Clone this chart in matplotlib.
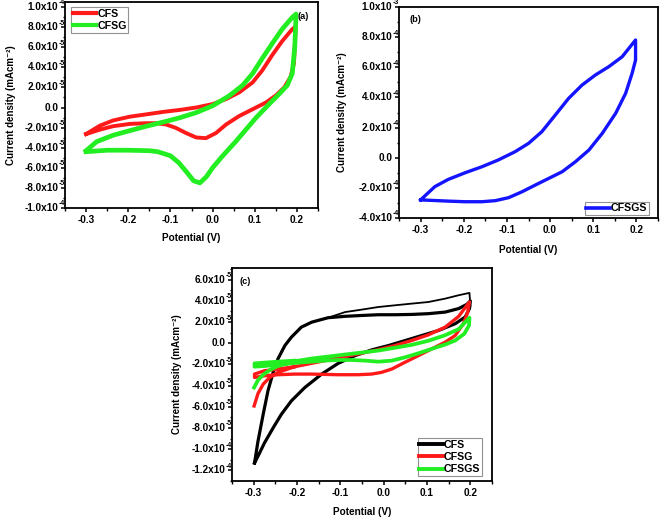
import numpy as np
import matplotlib
matplotlib.use("Agg")
import matplotlib.pyplot as plt
from matplotlib.ticker import MultipleLocator, FuncFormatter, NullFormatter
from matplotlib.transforms import blended_transform_factory, offset_copy

plt.rcParams['font.family'] = ['Liberation Sans', 'DejaVu Sans']
plt.rcParams['font.weight'] = 'bold'
plt.rcParams['axes.unicode_minus'] = False

# ---------------- Panel (a) data (current in 1e-5 mA/cm2) ----------------
a_cfs_v = [-0.300, -0.267, -0.236, -0.196, -0.157, -0.118, -0.078, -0.039, 0.000, 0.032, 0.063, 0.095,
           0.118, 0.142, 0.165, 0.189, 0.197,
           0.193, 0.185, 0.170, 0.150, 0.127, 0.095, 0.063, 0.032, 0.008, -0.016, -0.039, -0.063,
           -0.087, -0.110, -0.134, -0.157, -0.196, -0.236, -0.267, -0.300]
a_cfs_i = [-2.64, -1.80, -1.29, -0.91, -0.68, -0.44, -0.24, 0.00, 0.34, 0.84, 1.50, 2.50,
           3.70, 5.25, 6.60, 7.80, 8.05,
           4.40, 3.05, 2.00, 1.20, 0.51, -0.17, -0.85, -1.69, -2.54, -3.05, -2.98, -2.54,
           -2.03, -1.69, -1.56, -1.56, -1.63, -1.86, -2.20, -2.64]
a_cfsg_v = [-0.300, -0.275, -0.236, -0.196, -0.157, -0.118, -0.078, -0.039, 0.000, 0.040, 0.071, 0.095,
            0.118, 0.142, 0.165, 0.189, 0.198,
            0.195, 0.189, 0.177, 0.158, 0.134, 0.103, 0.079, 0.055, 0.035, 0.020, 0.000, -0.015,
            -0.030, -0.045, -0.060, -0.080, -0.100, -0.130, -0.150, -0.200, -0.250, -0.300]
a_cfsg_i = [-4.30, -3.40, -2.76, -2.30, -1.86, -1.46, -1.02, -0.51, 0.17, 1.18, 2.20, 3.38,
            4.90, 6.40, 7.80, 8.97, 9.30,
            6.10, 3.38, 2.20, 1.35, 0.34, -1.02, -2.20, -3.38, -4.30, -5.00, -6.00, -6.90,
            -7.50, -7.30, -6.50, -5.50, -4.80, -4.40, -4.30, -4.25, -4.25, -4.40]

# ---------------- Panel (b) data (current in 1e-4 mA/cm2) ----------------
b_cfsgs_v = [-0.300, -0.267, -0.236, -0.197, -0.158, -0.120, -0.081, -0.050, -0.019, 0.012, 0.043, 0.074,
             0.105, 0.136, 0.167, 0.198,
             0.198, 0.190, 0.175, 0.152, 0.121, 0.090, 0.059, 0.028, -0.003, -0.034, -0.065, -0.096,
             -0.127, -0.158, -0.197, -0.236, -0.275, -0.300]
b_cfsgs_i = [-2.80, -1.92, -1.44, -1.00, -0.60, -0.15, 0.40, 0.95, 1.73, 2.83, 3.94, 4.82,
             5.49, 6.04, 6.70, 7.81,
             6.48, 5.60, 4.27, 2.95, 1.62, 0.51, -0.26, -0.93, -1.37, -1.81, -2.26, -2.65,
             -2.85, -2.92, -2.92, -2.88, -2.83, -2.80]

# ---------------- Panel (c) data (current in 1e-5 mA/cm2) ----------------
c_cfs_v = [-0.298, -0.290, -0.278, -0.267, -0.255, -0.244, -0.228, -0.213, -0.190, -0.166, -0.128, -0.089,
           -0.051, -0.012, 0.027, 0.065, 0.103, 0.142, 0.173, 0.192, 0.200,
           0.198, 0.188, 0.165, 0.127, 0.088, 0.050, 0.011, -0.028, -0.066, -0.105, -0.143, -0.182,
           -0.213, -0.236, -0.255, -0.275, -0.290, -0.298]
c_cfs_i = [-11.30, -9.24, -6.70, -4.49, -2.75, -1.48, -0.22, 0.57, 1.52, 1.99, 2.41, 2.54,
           2.62, 2.69, 2.69, 2.72, 2.79, 2.94, 3.27, 3.67, 3.99,
           3.27, 2.47, 1.84, 1.21, 0.73, 0.26, -0.22, -0.63, -1.17, -1.90, -2.91, -4.18,
           -5.44, -6.70, -7.98, -9.40, -10.66, -11.30]
c_cfs_first_v = [-0.128, -0.089, -0.051, -0.012, 0.026, 0.065, 0.103, 0.142, 0.173, 0.198, 0.200]
c_cfs_first_i = [2.41, 2.94, 3.17, 3.42, 3.58, 3.74, 3.89, 4.21, 4.53, 4.75, 3.50]

c_cfsg_v = [-0.299, -0.290, -0.278, -0.263, -0.244, -0.205, -0.167, -0.128, -0.090, -0.051, -0.012, 0.026,
            0.065, 0.103, 0.142, 0.173, 0.198,
            0.194, 0.184, 0.165, 0.142, 0.111, 0.080, 0.049, 0.019, -0.005, -0.028, -0.059, -0.105,
            -0.167, -0.205, -0.244, -0.275, -0.298,
            -0.298, -0.275, -0.244, -0.205]
c_cfsg_i = [-5.92, -4.75, -3.86, -3.23, -2.75, -2.21, -1.90, -1.58, -1.26, -0.95, -0.60, -0.22,
            0.26, 0.79, 1.52, 2.53, 3.90,
            2.94, 1.84, 0.73, 0.10, -0.53, -1.17, -1.80, -2.43, -2.75, -2.91, -2.97, -2.97,
            -2.91, -2.91, -2.97, -3.07, -3.23,
            -2.91, -2.60, -2.44, -2.21]
c_cfsgs_v = [-0.299, -0.290, -0.278, -0.263, -0.244, -0.205, -0.167, -0.090, -0.012, 0.065, 0.103, 0.142,
             0.173, 0.198,
             0.197, 0.186, 0.165, 0.142, 0.111, 0.080, 0.049, 0.019, -0.012, -0.043, -0.074, -0.105,
             -0.136, -0.167, -0.205, -0.244, -0.275, -0.298,
             -0.298, -0.275, -0.244, -0.205]
c_cfsgs_i = [-4.18, -3.48, -2.97, -2.53, -2.15, -1.70, -1.45, -1.07, -0.69, -0.15, 0.23, 0.76,
             1.33, 2.41,
             1.68, 0.89, 0.26, -0.12, -0.53, -0.95, -1.33, -1.64, -1.74, -1.64, -1.58, -1.58,
             -1.64, -1.74, -1.86, -2.02, -2.15, -2.21,
             -1.90, -1.83, -1.74, -1.64]

x_ticks = [-0.3, -0.2, -0.1, 0.0, 0.1, 0.2]
a_yticks = [-1.0e-4, -8e-5, -6e-5, -4e-5, -2e-5, 0.0, 2e-5, 4e-5, 6e-5, 8e-5, 1.0e-4]
b_yticks = [-4e-4, -2e-4, 0.0, 2e-4, 4e-4, 6e-4, 8e-4, 1.0e-3]
c_yticks = [-1.2e-4, -1.0e-4, -8e-5, -6e-5, -4e-5, -2e-5, 0.0, 2e-5, 4e-5, 6e-5]

FS = 7.2
LFS = 7.7
EFS = 5.0
SUP = str.maketrans('-0123456789', '\u207b\u2070\u00b9\u00b2\u00b3\u2074\u2075\u2076\u2077\u2078\u2079')

fig = plt.figure(figsize=(6.61, 5.17), dpi=100)
W, H = 661, 517


def add_ax(l, r, t, b):
    return fig.add_axes([l / W, 1 - b / H, (r - l) / W, (b - t) / H])


def split_sci(v):
    if abs(v) < 1e-12:
        return '0.0', ''
    e = int(np.floor(np.log10(abs(v)) + 1e-9))
    m = v / 10 ** e
    return '%.1fx10' % m, '%d' % e


def style(ax, ylim, yticks, ymin):
    ax.set_xlim(-0.35, 0.25)
    ax.set_ylim(*ylim)
    ax.set_xticks(x_ticks)
    ax.xaxis.set_major_formatter(FuncFormatter(lambda v, p: '%.1f' % v))
    ax.xaxis.set_minor_locator(MultipleLocator(0.05))
    ax.set_yticks(yticks)
    ax.yaxis.set_minor_locator(MultipleLocator(ymin))
    ax.yaxis.set_major_formatter(NullFormatter())
    ax.tick_params(which='major', direction='out', length=3.2, width=1.1, labelsize=FS, pad=1.5)
    ax.tick_params(which='minor', direction='out', length=1.8, width=1.0)
    ax.tick_params(top=False, right=False)
    for s in ax.spines.values():
        s.set_linewidth(1.3)
    for lab in ax.get_xticklabels():
        lab.set_fontweight('bold')
    trans = blended_transform_factory(ax.transAxes, ax.transData)
    t_base = offset_copy(trans, fig=fig, x=-4.9, y=0, units='points')
    t_exp = offset_copy(trans, fig=fig, x=-4.7, y=2.9, units='points')
    for v in yticks:
        base, ex = split_sci(v)
        ax.text(0, v, base, transform=t_base, ha='right', va='center', fontsize=FS,
                fontweight='bold', clip_on=False)
        if ex:
            ax.text(0, v, ex, transform=t_exp, ha='left', va='center', fontsize=EFS,
                    fontweight='bold', clip_on=False)
    ax.set_xlabel('Potential (V)', fontsize=FS, fontweight='bold')
    ax.set_ylabel('Current density (mAcm' + '-2'.translate(SUP) + ')', fontsize=7.0, fontweight='bold')


def make_legend(ax, anchor, loc, lw):
    leg = ax.legend(loc=loc, bbox_to_anchor=anchor, handlelength=2.2, frameon=True, fancybox=False,
                    edgecolor='#777777', borderpad=0.15, labelspacing=0.22, handletextpad=0.1,
                    borderaxespad=0.0, prop={'weight': 'bold', 'size': LFS})
    leg.get_frame().set_linewidth(0.8)
    for line in leg.get_lines():
        line.set_linewidth(lw)
    return leg


# Panel (a)
axa = add_ax(65, 318, 2, 208)
axa.plot(a_cfs_v, np.array(a_cfs_i) * 1e-5, color='#ff1a1a', lw=2.8, label='CFS', solid_joinstyle='round')
axa.plot(a_cfsg_v, np.array(a_cfsg_i) * 1e-5, color='#22ee22', lw=3.4, label='CFSG', solid_joinstyle='round')
style(axa, (-1.0e-4, 1.05e-4), a_yticks, 1e-5)
make_legend(axa, (0.024, 0.976), 'upper left', 3.0)
axa.text(0.965, 0.95, '(a)', transform=axa.transAxes, ha='right', va='top', fontsize=FS - 0.5, fontweight='bold')
axa.yaxis.set_label_coords(-0.194, 0.5)
axa.xaxis.set_label_coords(0.5, -0.121)

# Panel (b)
axb = add_ax(399, 658, 7, 218)
axb.plot(b_cfsgs_v, np.array(b_cfsgs_i) * 1e-4, color='#1414ff', lw=2.4, label='CFSGS', solid_joinstyle='round')
style(axb, (-4e-4, 1.0e-3), b_yticks, 1e-4)
make_legend(axb, (0.965, 0.014), 'lower right', 2.6)
axb.text(0.04, 0.96, '(b)', transform=axb.transAxes, ha='left', va='top', fontsize=FS - 0.5, fontweight='bold')
axb.yaxis.set_label_coords(-0.2, 0.5)
axb.xaxis.set_label_coords(0.5, -0.128)

# Panel (c)
axc = add_ax(232, 492, 268, 481)
axc.plot(c_cfs_first_v, np.array(c_cfs_first_i) * 1e-5, color='black', lw=1.3)
axc.plot(c_cfs_v, np.array(c_cfs_i) * 1e-5, color='black', lw=2.3, label='CFS', solid_joinstyle='round')
axc.plot(c_cfsg_v, np.array(c_cfsg_i) * 1e-5, color='#ff1a1a', lw=2.4, label='CFSG', solid_joinstyle='round')
axc.plot(c_cfsgs_v, np.array(c_cfsgs_i) * 1e-5, color='#22ee22', lw=2.7, label='CFSGS', solid_joinstyle='round')
style(axc, (-1.3e-4, 7.1e-5), c_yticks, 1e-5)
make_legend(axc, (0.9615, 0.0235), 'lower right', 2.8)
axc.text(0.03, 0.96, '(c)', transform=axc.transAxes, ha='left', va='top', fontsize=FS - 0.5, fontweight='bold')
axc.yaxis.set_label_coords(-0.192, 0.5)
axc.xaxis.set_label_coords(0.5, -0.122)

fig.savefig('out.png', dpi=100)
